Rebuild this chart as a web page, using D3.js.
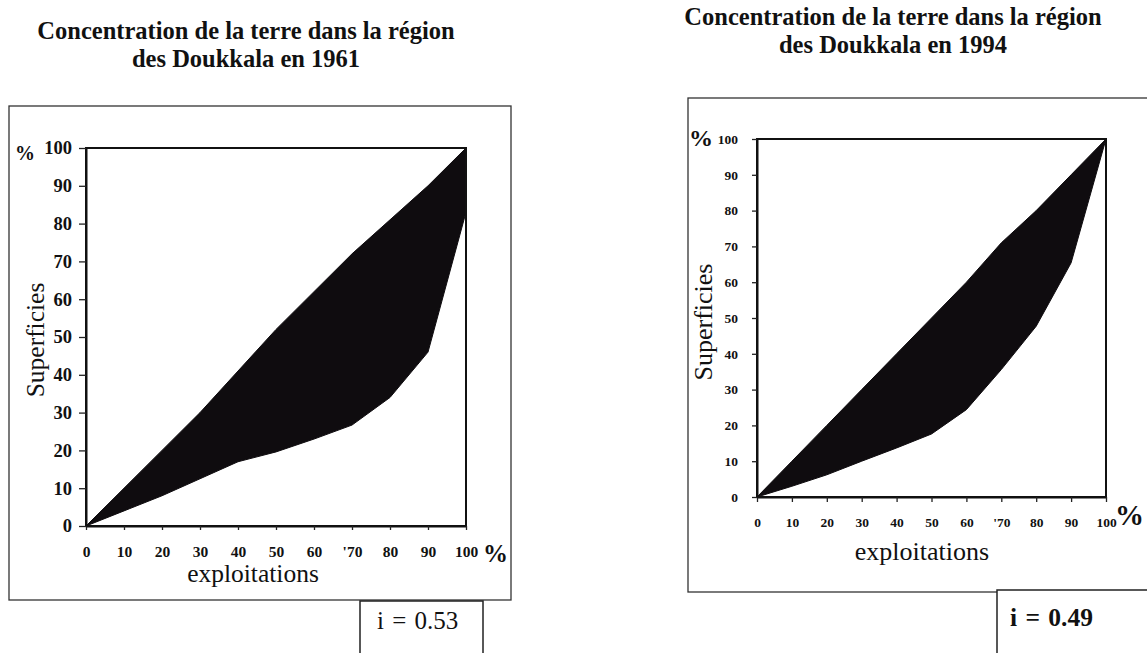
<!DOCTYPE html>
<html>
<head>
<meta charset="utf-8">
<script src="https://cdn.jsdelivr.net/npm/d3@7"></script>
<style>
  html, body { margin: 0; padding: 0; background: #fff; }
  svg { display: block; }
  text { font-family: "Liberation Serif", "Times New Roman", serif; fill: #111; }
</style>
</head>
<body>
<svg id="chart" width="1147" height="653"></svg>
<script>
// ---- data ----
const xTicks = [0, 10, 20, 30, 40, 50, 60, 70, 80, 90, 100];
const xTickLabels = ["0", "10", "20", "30", "40", "50", "60", "'70", "80", "90", "100"];
const yTicks = [0, 10, 20, 30, 40, 50, 60, 70, 80, 90, 100];
const yTickLabels = ["0", "10", "20", "30", "40", "50", "60", "70", "80", "90", "100"];

const exploitations = [0, 10, 20, 30, 40, 50, 60, 70, 80, 90, 100];
const upper1961 = [0, 10, 20, 30, 41, 52, 62, 72, 81, 90, 100];
const lower1961 = [0, 4, 8, 12.5, 17, 19.6, 23, 26.7, 34, 46, 83];
const upper1994 = [0, 10, 20, 30, 40, 50, 60, 71, 80, 90, 100];
const lower1994 = [0, 3, 6.2, 10, 13.7, 17.6, 24.4, 35.6, 47.7, 65.4, 100];

const titles1961 = ["Concentration de la terre dans la région", "des Doukkala en 1961"];
const titles1994 = ["Concentration de la terre dans la région", "des Doukkala en 1994"];
const index1961 = "i = 0.53";
const index1994 = "i = 0.49";
const yLabel = "Superficies";
const xLabel = "exploitations";

// ---- drawing ----
const svg = d3.select("#chart");

function drawChart(cfg, upper, lower, titles, idx) {
  const g = svg.append("g");
  // outer frame
  g.append("rect").attr("x", cfg.frame[0]).attr("y", cfg.frame[1])
    .attr("width", cfg.frame[2]).attr("height", cfg.frame[3])
    .attr("fill", "none").attr("stroke", "#333").attr("stroke-width", 1.3);
  // index box
  g.append("rect").attr("x", cfg.box[0]).attr("y", cfg.box[1])
    .attr("width", cfg.box[2]).attr("height", cfg.box[3])
    .attr("fill", "#fff").attr("stroke", "#222").attr("stroke-width", 1.5);
  g.append("text").attr("x", cfg.idxPos[0]).attr("y", cfg.idxPos[1])
    .attr("font-size", cfg.idxSize).attr("font-weight", cfg.idxWeight)
    .attr("word-spacing", 2)
    .attr("xml:space", "preserve").text(idx);

  // titles
  titles.forEach((t, i) => {
    g.append("text").attr("x", cfg.titleX).attr("y", cfg.titleY[i])
      .attr("text-anchor", "middle").attr("font-weight", "bold")
      .attr("font-size", cfg.titleSize).text(t);
  });

  const x = d3.scaleLinear().domain([0, 100]).range([cfg.plot[0], cfg.plot[1]]);
  const y = d3.scaleLinear().domain([0, 100]).range([cfg.plot[3], cfg.plot[2]]);

  const data = exploitations.map((e, i) => ({ e, u: upper[i], l: lower[i] }));
  const area = d3.area().x(d => x(d.e)).y0(d => y(d.l)).y1(d => y(d.u)).curve(d3.curveLinear);
  g.append("path").datum(data).attr("d", area)
    .attr("fill", "#0f0c0f").attr("stroke", "#0f0c0f").attr("stroke-width", 1);

  // plot frame
  g.append("rect").attr("x", x(0)).attr("y", y(100))
    .attr("width", x(100) - x(0)).attr("height", y(0) - y(100))
    .attr("fill", "none").attr("stroke", "#111").attr("stroke-width", 2);

  const xAxis = d3.axisBottom(x).tickValues(xTicks)
    .tickFormat((d, i) => xTickLabels[i]).tickSize(cfg.xTick).tickSizeOuter(0).tickPadding(cfg.xPad);
  const gx = g.append("g").attr("transform", `translate(0,${y(0)})`).call(xAxis);
  const yAxis = d3.axisLeft(y).tickValues(yTicks)
    .tickFormat((d, i) => yTickLabels[i]).tickSize(cfg.yTick).tickSizeOuter(0).tickPadding(cfg.yPad);
  const gy = g.append("g").attr("transform", `translate(${x(0)},0)`).call(yAxis);
  [gx, gy].forEach(a => {
    a.select(".domain").attr("stroke", "#111").attr("stroke-width", 2);
    a.selectAll(".tick line").attr("stroke", "#222").attr("stroke-width", 1.3);
    a.selectAll(".tick text").attr("font-family", "'Liberation Serif', serif")
      .attr("font-weight", "bold").attr("fill", "#111");
  });
  gx.selectAll(".tick text").attr("font-size", cfg.xTickSize);
  gy.selectAll(".tick text").attr("font-size", cfg.yTickSize);

  // percent signs
  g.append("text").attr("x", cfg.pctY[0]).attr("y", cfg.pctY[1])
    .attr("font-size", cfg.pctY[2]).attr("font-weight", "bold").text("%");
  g.append("text").attr("x", cfg.pctX[0]).attr("y", cfg.pctX[1])
    .attr("font-size", cfg.pctX[2]).attr("font-weight", "bold").text("%");

  // axis titles
  g.append("text").attr("transform", `translate(${cfg.yLab[0]},${cfg.yLab[1]}) rotate(-90)`)
    .attr("text-anchor", "middle").attr("font-size", cfg.labSize).text(yLabel);
  g.append("text").attr("x", cfg.xLab[0]).attr("y", cfg.xLab[1])
    .attr("text-anchor", "middle").attr("font-size", cfg.labSize).text(xLabel);
}

drawChart({
  frame: [9, 106, 502, 494],
  box: [360, 601, 123, 80],
  idxPos: [377, 629], idxSize: 25, idxWeight: "normal",
  titleX: 246, titleY: [39, 67], titleSize: 24.5,
  plot: [86, 466, 148, 526],
  xTick: 4, xPad: 16, yTick: 7, yPad: 7, xTickSize: 15.5, yTickSize: 18.5,
  pctY: [15, 160, 20], pctX: [483, 562, 25],
  yLab: [44, 340], xLab: [253, 582], labSize: 25.5
}, upper1961, lower1961, titles1961, index1961);

drawChart({
  frame: [688, 98, 500, 494],
  box: [997, 590, 200, 100],
  idxPos: [1010, 626], idxSize: 25.5, idxWeight: "bold",
  titleX: 893, titleY: [25, 53], titleSize: 24.5,
  plot: [757, 1106, 139, 497],
  xTick: 5, xPad: 15, yTick: 5, yPad: 14, xTickSize: 13.5, yTickSize: 13.5,
  pctY: [689, 146, 24], pctX: [1115, 525, 29],
  yLab: [712, 322], xLab: [922, 560], labSize: 26
}, upper1994, lower1994, titles1994, index1994);
</script>
</body>
</html>
